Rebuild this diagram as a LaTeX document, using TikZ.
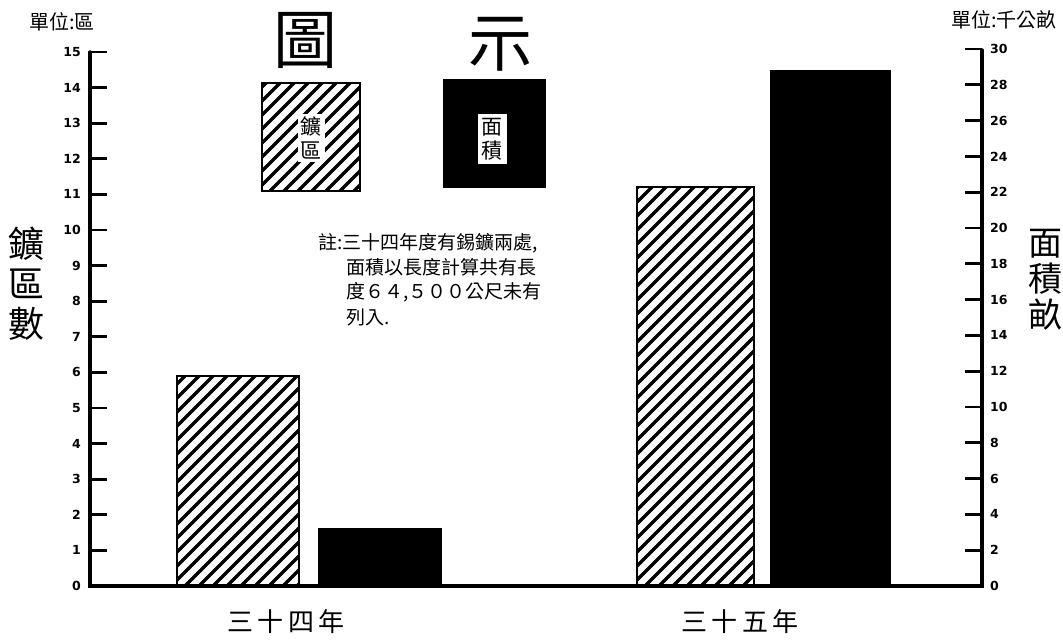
\documentclass[tikz,border=0pt]{standalone}
\usepackage{fontspec}
\newfontfamily\cjk{Noto Sans CJK TC}
\newfontfamily\numf{DejaVu Sans}
\newcommand\hatchbox[4]{%
  \begin{scope}
    \clip (#1,#2) rectangle (#3,#4);
    \foreach \k in {-440,-426,...,160}
      \draw[hatchline] ({#1+\k},#4) -- ++(500,-500);
  \end{scope}
  \draw[barframe] (#1,#2) rectangle (#3,#4);}
\tikzset{
  axisline/.style={line width=3.4pt, line cap=round, line join=miter},
  tickline/.style={line width=2.8pt},
  numlab/.style={font=\numf\bfseries\fontsize{12.5}{12.5}\selectfont, inner sep=1pt},
  hatchline/.style={line width=3.4pt},
  barframe/.style={line width=2.8pt},
  blackbar/.style={fill=black, draw=black, line width=1pt},
  cjklab/.style={font=\cjk\fontsize{#1}{#1}\selectfont, inner sep=0pt},
  cjklab/.default=18,
}
\begin{document}
\begin{tikzpicture}[x=1pt,y=-1pt]
\useasboundingbox[fill=white] (0,0) rectangle (1063,644);

% axes
\coordinate (Ltop) at (90,52);
\coordinate (Lbot) at (90,586);
\coordinate (Rtop) at (982,50);
\coordinate (Rbot) at (982,586);
\draw[axisline] (Ltop) -- (Lbot) -- (Rbot) -- (Rtop);

% left ticks
\foreach \v in {0,...,15} {
  \pgfmathsetmacro\yy{586-\v*35.6}
  \node[numlab, anchor=east] (L\v) at (82,\yy) {\v};
}
\foreach \v in {1,...,15} {
  \pgfmathsetmacro\yy{586-\v*35.6}
  \draw[tickline] (90,\yy) -- (107,\yy);
}
% right ticks
\foreach \v in {0,2,...,30} {
  \pgfmathsetmacro\yy{586-\v/2*35.8}
  \node[numlab, anchor=west] (R\v) at (989,\yy) {\v};
}
\foreach \v in {2,4,...,30} {
  \pgfmathsetmacro\yy{586-\v/2*35.8}
  \draw[tickline] (965,\yy) -- (982,\yy);
}

% bars
\hatchbox{177}{376}{299}{586}
\draw[blackbar] (318,528) rectangle (441,586);
\hatchbox{637}{187}{754}{586}
\draw[blackbar] (770,71) rectangle (890,586);

% legend
\hatchbox{262}{83}{360}{191}
\node[cjklab=21, fill=white, inner sep=3pt, align=center] (lgA) at (311,138) {鑛\\[3pt]區};
\draw[blackbar] (443,80) rectangle (545,188);
\node[cjklab=21, fill=white, inner sep=4pt, align=center] (lgB) at (492,139) {面\\[3pt]積};

% title
\node[cjklab=64] (t1) at (305,40) {圖};
\node[cjklab=64] (t2) at (500,44) {示};

% units
\node[cjklab=20] (uL) at (62,22) {單位:區};
\node[cjklab=20] (uR) at (1004,20) {單位:千公畝};

% vertical axis titles
\node[cjklab=36, align=center] (vL) at (27,284) {鑛\\[4pt]區\\[4pt]數};
\node[cjklab=34, align=center] (vR) at (1045,280) {面\\[2pt]積\\[2pt]畝};

% note
\node[cjklab=19, anchor=north west, align=left] (note) at (318,233) {註:三十四年度有錫鑛兩處,\\[5pt]
\hspace{1.5em}面積以長度計算共有長\\[5pt]
\hspace{1.5em}度６４,５００公尺未有\\[5pt]
\hspace{1.5em}列入.};

% year labels
\node[cjklab=26] (y34) at (286,622) {三\,十\,四\,年};
\node[cjklab=26] (y35) at (740,622) {三\,十\,五\,年};
\end{tikzpicture}
\end{document}
